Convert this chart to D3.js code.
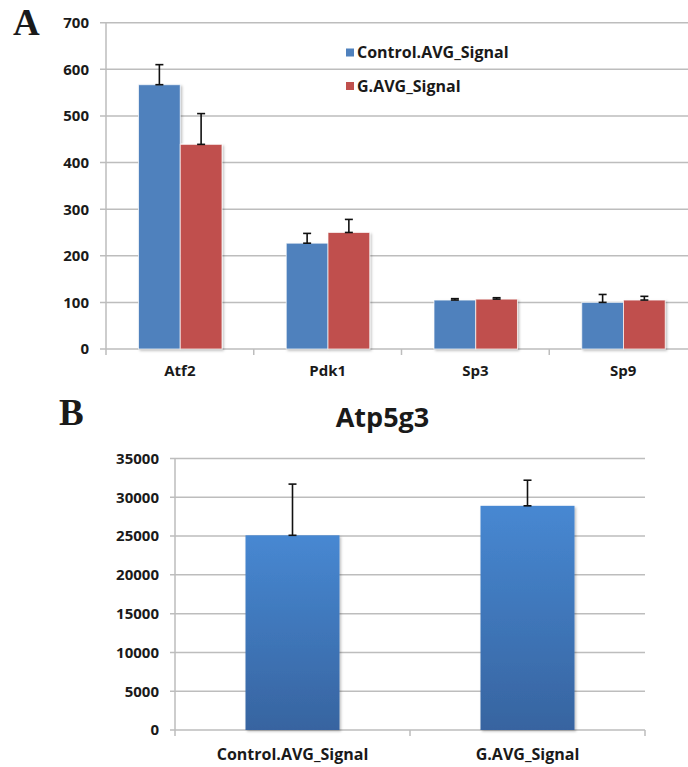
<!DOCTYPE html>
<html>
<head>
<meta charset="utf-8">
<script src="https://cdn.jsdelivr.net/npm/d3@7"></script>
<style>
  body { margin: 0; background: #fff; }
  text { font-family: "Open Sans", "DejaVu Sans", sans-serif; }
</style>
</head>
<body>
<div id="chart"></div>
<script>
// Panel A - four genes, two series with upward error bars
const geneCats = ["Atf2", "Pdk1", "Sp3", "Sp9"]
const seriesNames = ["Control.AVG_Signal", "G.AVG_Signal"]
const controlVals = [567, 227, 105, 100]
const controlErr = [43, 21, 3, 17]
const gVals = [439, 250, 107, 105]
const gErr = [66, 28, 3, 8]
const yTicksA = [0, 100, 200, 300, 400, 500, 600, 700]

// Panel B - Atp5g3
const atpTitle = "Atp5g3"
const atpCats = ["Control.AVG_Signal", "G.AVG_Signal"]
const atpVals = [25100, 28900]
const atpErr = [6600, 3300]
const yTicksB = [0, 5000, 10000, 15000, 20000, 25000, 30000, 35000]

const W = 688, H = 767
const gridColor = "#bdbdbd"
const textColor = "#1a1a1a"
const seriesColors = ["#4f81bd", "#c0504d"]

const svg = d3.select("#chart").append("svg")
    .attr("width", W)
    .attr("height", H)

const defs = svg.append("defs")
defs.append("filter")
    .attr("id", "shadow")
    .attr("x", "-10%").attr("y", "-10%")
    .attr("width", "130%").attr("height", "130%")
    .append("feDropShadow")
    .attr("dx", 1.5).attr("dy", 1.5)
    .attr("stdDeviation", 1.2)
    .attr("flood-color", "#000")
    .attr("flood-opacity", 0.25)
const grad = defs.append("linearGradient")
    .attr("id", "barGrad")
    .attr("x1", 0).attr("y1", 0).attr("x2", 0).attr("y2", 1)
grad.append("stop").attr("offset", "0%").attr("stop-color", "#4788d2")
grad.append("stop").attr("offset", "100%").attr("stop-color", "#3764a0")

// panel letters
svg.append("text").attr("x", 13).attr("y", 35)
    .style("font-family", "'Liberation Serif', 'DejaVu Serif', serif")
    .attr("font-weight", "bold").attr("font-size", "37px").attr("fill", textColor)
    .text("A")
svg.append("text").attr("x", 59).attr("y", 425)
    .style("font-family", "'Liberation Serif', 'DejaVu Serif', serif")
    .attr("font-weight", "bold").attr("font-size", "37px").attr("fill", textColor)
    .text("B")

// ---------- Panel A ----------
const xA = d3.scaleBand().domain(geneCats).range([106, 697]).padding(0)
const xA1 = d3.scaleBand().domain(seriesNames)
    .range([xA.bandwidth() * 0.22, xA.bandwidth() * 0.785]).padding(0)
const yA = d3.scaleLinear().domain([0, 700]).range([349, 22.7])

const gA = svg.append("g")

gA.append("g").selectAll("line")
    .data(yTicksA)
    .enter()
    .append("line")
    .attr("x1", 100).attr("x2", W)
    .attr("y1", d => yA(d)).attr("y2", d => yA(d))
    .attr("stroke", gridColor)
    .attr("stroke-width", 1.5)

gA.append("line")
    .attr("x1", 106).attr("x2", 106)
    .attr("y1", yA(700)).attr("y2", yA(0))
    .attr("stroke", gridColor).attr("stroke-width", 1.5)

// category ticks under the axis
gA.append("g").selectAll("line")
    .data(geneCats.concat(["end"]))
    .enter()
    .append("line")
    .attr("x1", (d, i) => 106 + i * xA.bandwidth())
    .attr("x2", (d, i) => 106 + i * xA.bandwidth())
    .attr("y1", yA(0)).attr("y2", yA(0) + 6)
    .attr("stroke", gridColor).attr("stroke-width", 1.5)

gA.append("g").selectAll("text")
    .data(yTicksA)
    .enter()
    .append("text")
    .attr("x", 89)
    .attr("y", d => yA(d))
    .attr("dy", "0.36em")
    .attr("text-anchor", "end")
    .attr("font-size", "15px")
    .attr("font-weight", "bold")
    .attr("fill", textColor)
    .text(d => d)

gA.append("g").selectAll("text")
    .data(geneCats)
    .enter()
    .append("text")
    .attr("x", d => xA(d) + xA.bandwidth() / 2)
    .attr("y", 376)
    .attr("text-anchor", "middle")
    .attr("font-size", "15px")
    .attr("font-weight", "bold")
    .attr("fill", textColor)
    .text(d => d)

const barRows = geneCats.map((c, i) => [
    {cat: c, s: seriesNames[0], v: controlVals[i], e: controlErr[i], col: seriesColors[0]},
    {cat: c, s: seriesNames[1], v: gVals[i], e: gErr[i], col: seriesColors[1]}
]).flat()

gA.append("g").attr("filter", "url(#shadow)")
    .selectAll("rect")
    .data(barRows)
    .enter()
    .append("rect")
    .attr("x", d => xA(d.cat) + xA1(d.s))
    .attr("y", d => yA(d.v))
    .attr("width", xA1.bandwidth())
    .attr("height", d => yA(0) - yA(d.v))
    .attr("fill", d => d.col)
    .attr("stroke", "#ffffff")
    .attr("stroke-opacity", 0.7)
    .attr("stroke-width", 1)

const errA = gA.append("g")
    .attr("stroke", "#111")
    .attr("stroke-width", 1.6)
barRows.forEach(d => {
    const cx = xA(d.cat) + xA1(d.s) + xA1.bandwidth() / 2
    errA.append("line").attr("x1", cx).attr("x2", cx)
        .attr("y1", yA(d.v)).attr("y2", yA(d.v + d.e))
    errA.append("line").attr("x1", cx - 4).attr("x2", cx + 4)
        .attr("y1", yA(d.v + d.e)).attr("y2", yA(d.v + d.e))
    errA.append("line").attr("x1", cx - 4).attr("x2", cx + 4)
        .attr("y1", yA(d.v)).attr("y2", yA(d.v))
})

// legend
const legend = gA.append("g")
seriesNames.forEach((s, i) => {
    const ly = [52.5, 86][i]
    legend.append("rect")
        .attr("x", 346).attr("y", ly - 4)
        .attr("width", 8).attr("height", 8)
        .attr("fill", seriesColors[i])
    legend.append("text")
        .attr("x", 357).attr("y", ly)
        .attr("dy", "0.36em")
        .attr("font-size", "16px")
        .attr("font-weight", "bold")
        .attr("fill", textColor)
        .text(s)
})

// ---------- Panel B ----------
const xB = d3.scaleBand().domain(atpCats).range([175, 645]).padding(0)
const barWB = xB.bandwidth() * 0.4
const yB = d3.scaleLinear().domain([0, 35000]).range([730, 458.5])

const gB = svg.append("g")

svg.append("text")
    .attr("x", 382.5).attr("y", 427)
    .attr("text-anchor", "middle")
    .attr("font-size", "27px")
    .attr("font-weight", "bold")
    .attr("fill", textColor)
    .text(atpTitle)

gB.append("g").selectAll("line")
    .data(yTicksB)
    .enter()
    .append("line")
    .attr("x1", 170).attr("x2", 645)
    .attr("y1", d => yB(d)).attr("y2", d => yB(d))
    .attr("stroke", gridColor)
    .attr("stroke-width", 1.5)

gB.append("line")
    .attr("x1", 175).attr("x2", 175)
    .attr("y1", yB(35000)).attr("y2", yB(0) + 6)
    .attr("stroke", gridColor).attr("stroke-width", 1.5)

gB.append("g").selectAll("line")
    .data(atpCats)
    .enter()
    .append("line")
    .attr("x1", d => xB(d) + xB.bandwidth()).attr("x2", d => xB(d) + xB.bandwidth())
    .attr("y1", yB(0)).attr("y2", yB(0) + 6)
    .attr("stroke", gridColor).attr("stroke-width", 1.5)

gB.append("g").selectAll("text")
    .data(yTicksB)
    .enter()
    .append("text")
    .attr("x", 159)
    .attr("y", d => yB(d))
    .attr("dy", "0.36em")
    .attr("text-anchor", "end")
    .attr("font-size", "15px")
    .attr("font-weight", "bold")
    .attr("fill", textColor)
    .text(d => d)

gB.append("g").selectAll("text")
    .data(atpCats)
    .enter()
    .append("text")
    .attr("x", d => xB(d) + xB.bandwidth() / 2)
    .attr("y", 760)
    .attr("text-anchor", "middle")
    .attr("font-size", "16px")
    .attr("font-weight", "bold")
    .attr("fill", textColor)
    .text(d => d)

gB.append("g").attr("filter", "url(#shadow)")
    .selectAll("rect")
    .data(atpCats)
    .enter()
    .append("rect")
    .attr("x", d => xB(d) + (xB.bandwidth() - barWB) / 2)
    .attr("y", (d, i) => yB(atpVals[i]))
    .attr("width", barWB)
    .attr("height", (d, i) => yB(0) - yB(atpVals[i]))
    .attr("fill", "url(#barGrad)")

const errB = gB.append("g")
    .attr("stroke", "#111")
    .attr("stroke-width", 1.6)
atpCats.forEach((c, i) => {
    const cx = xB(c) + xB.bandwidth() / 2
    const top = atpVals[i] + atpErr[i]
    errB.append("line").attr("x1", cx).attr("x2", cx)
        .attr("y1", yB(atpVals[i])).attr("y2", yB(top))
    errB.append("line").attr("x1", cx - 4).attr("x2", cx + 4)
        .attr("y1", yB(top)).attr("y2", yB(top))
    errB.append("line").attr("x1", cx - 4).attr("x2", cx + 4)
        .attr("y1", yB(atpVals[i])).attr("y2", yB(atpVals[i]))
})
</script>
</body>
</html>
